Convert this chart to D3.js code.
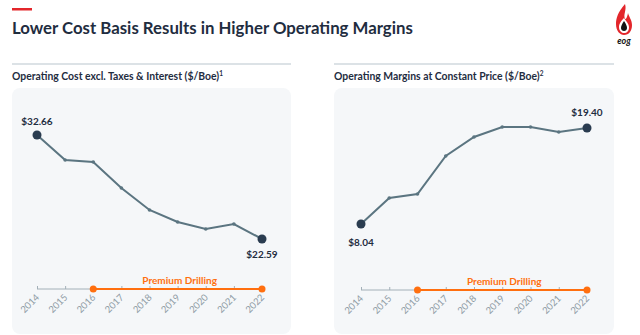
<!DOCTYPE html>
<html>
<head>
<meta charset="utf-8">
<script src="https://cdn.jsdelivr.net/npm/d3@7"></script>
<style>
  body { margin: 0; background: #fff; }
  svg { display: block; font-family: Lato, "Open Sans", sans-serif; }
</style>
</head>
<body>
<svg width="640" height="335"></svg>
<script>
var years = ["2014", "2015", "2016", "2017", "2018", "2019", "2020", "2021", "2022"];
var costValues = [32.66, 30.24, 30.05, 27.53, 25.4, 24.24, 23.56, 24.04, 22.59];
var marginValues = [8.04, 11.12, 11.59, 16.09, 18.34, 19.52, 19.52, 18.93, 19.40];
var premiumYears = ["2016", "2022"];

var NAVY = "#1f2d3f";
var LINE = "#5b7581";
var ORANGE = "#ff6f0f";
var GREY = "#a3b0b8";

var svg = d3.select("svg");

// header
svg.append("rect").attr("x", 12).attr("y", 8).attr("width", 20).attr("height", 2.5).attr("fill", "#e3262b");
svg.append("text").attr("x", 12).attr("y", 34)
  .attr("font-size", 16.8).attr("font-weight", 700).attr("fill", NAVY)
  .text("Lower Cost Basis Results in Higher Operating Margins");

// logo
var logo = svg.append("g").attr("transform", "translate(622,4)");
logo.append("path").attr("fill", "#e3262b")
  .attr("d", "M3,0 C-4,8 -6,14 -6,20 C-6,27 -2,31 2,31 C7,31 10,27 10,21 C10,16 7,13 6,9 C5,14 4,15 3,15 C1,10 5,6 3,0 Z");
logo.append("path").attr("fill", "#fff")
  .attr("d", "M2,14 C-2,18 -3,21 -3,23 C-3,27 0,29 2,29 C5,29 7,27 7,23 C7,20 4,17 2,14 Z");
logo.append("path").attr("fill", "#111")
  .attr("d", "M2,17 C0,20 -1,22 -1,24 C-1,26 0.5,27 2,27 C3.5,27 5,26 5,24 C5,22 4,20 2,17 Z");
logo.append("text").attr("x", 2).attr("y", 40).attr("text-anchor", "middle")
  .attr("font-size", 9).attr("font-weight", 700).attr("font-style", "italic").attr("fill", "#111")
  .text("eog");

function drawPanel(opt) {
  var g = svg.append("g");
  g.append("line").attr("x1", opt.x0).attr("x2", opt.x1).attr("y1", 64).attr("y2", 64)
    .attr("stroke", "#b9c5cd").attr("stroke-width", 1.2);
  var t = g.append("text").attr("x", opt.x0).attr("y", 80)
    .attr("font-size", 10.4).attr("font-weight", 700).attr("fill", NAVY)
    .text(opt.title);
  t.append("tspan").attr("dy", -4).attr("font-size", 6.5).text(opt.sup);

  g.append("rect").attr("x", opt.x0).attr("y", 88).attr("width", opt.x1 - opt.x0).attr("height", 246)
    .attr("rx", 8).attr("fill", "#f5f7f9");

  var x = d3.scalePoint().domain(years).range(opt.xRange);
  var y = d3.scaleLinear().domain(opt.yDomain).range(opt.yRange);
  var data = years.map(function(yr, i) { return { year: yr, v: opt.values[i] }; });

  // axis
  var axisY = opt.axisY;
  var axis = d3.axisTop(x).tickSize(3).tickFormat("");
  var ax = g.append("g").attr("transform", "translate(0," + axisY + ")").call(axis);
  ax.select(".domain").remove();
  ax.selectAll(".tick line").attr("stroke", GREY);
  g.append("line").attr("x1", x(years[0])).attr("x2", x(premiumYears[0]))
    .attr("y1", axisY).attr("y2", axisY).attr("stroke", GREY).attr("stroke-width", 1);
  g.append("line").attr("x1", x(premiumYears[0])).attr("x2", x(premiumYears[1]))
    .attr("y1", axisY).attr("y2", axisY).attr("stroke", ORANGE).attr("stroke-width", 2);
  g.selectAll(".pd").data(premiumYears).enter().append("circle")
    .attr("cx", function(d) { return x(d); }).attr("cy", axisY).attr("r", 3.5).attr("fill", ORANGE);
  g.append("text").attr("x", (x(premiumYears[0]) + x(premiumYears[1])) / 2 + 2).attr("y", axisY - 5)
    .attr("text-anchor", "middle").attr("font-size", 10).attr("font-weight", 700).attr("fill", ORANGE)
    .text("Premium Drilling");
  g.selectAll(".yr").data(years).enter().append("text")
    .attr("transform", function(d) { return "translate(" + (x(d) + 3) + "," + (axisY + 9) + ") rotate(-45)"; })
    .attr("text-anchor", "end").attr("font-size", 9.5).attr("fill", "#8f9ca5")
    .text(function(d) { return d; });

  // line
  g.append("path").datum(data)
    .attr("fill", "none").attr("stroke", LINE).attr("stroke-width", 2)
    .attr("d", d3.line().x(function(d) { return x(d.year); }).y(function(d) { return y(d.v); }));
  g.selectAll(".pt").data(data).enter().append("circle")
    .attr("cx", function(d) { return x(d.year); }).attr("cy", function(d) { return y(d.v); })
    .attr("r", function(d, i) { return (i === 0 || i === data.length - 1) ? 4.5 : 1.8; })
    .attr("fill", function(d, i) { return (i === 0 || i === data.length - 1) ? "#2a3c50" : LINE; });

  // end labels
  [0, data.length - 1].forEach(function(i) {
    var d = data[i];
    g.append("text").attr("x", x(d.year)).attr("y", y(d.v) + opt.labelDy[i === 0 ? 0 : 1])
      .attr("text-anchor", "middle").attr("font-size", 10).attr("font-weight", 700).attr("fill", NAVY)
      .text("$" + d.v.toFixed(2));
  });
}

drawPanel({
  x0: 12, x1: 291,
  title: "Operating Cost excl. Taxes & Interest ($/Boe)", sup: "1",
  xRange: [37, 262],
  values: costValues,
  yDomain: [22.59, 32.66], yRange: [239, 135],
  axisY: 289,
  labelDy: [-10, 19]
});

drawPanel({
  x0: 334, x1: 614,
  title: "Operating Margins at Constant Price ($/Boe)", sup: "2",
  xRange: [361, 587],
  values: marginValues,
  yDomain: [8.04, 19.40], yRange: [224, 128],
  axisY: 290,
  labelDy: [22, -12]
});
</script>
</body>
</html>
